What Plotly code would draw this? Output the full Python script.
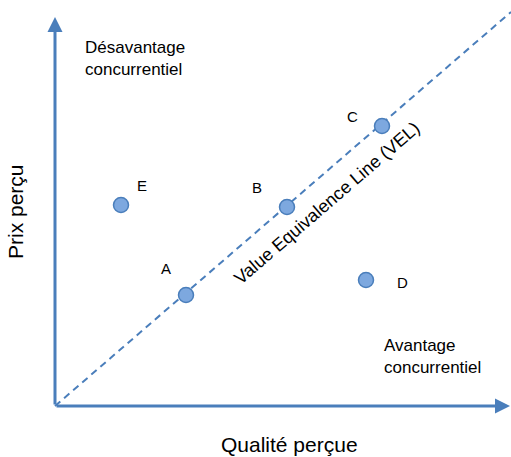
import plotly.graph_objects as go

# Data (data units: perceived quality on x, perceived price on y)
names = ["A", "B", "C", "D", "E"]
quality = [13.1, 23.2, 32.7, 31.1, 6.6]
price = [11.1, 19.9, 28.0, 12.6, 20.1]
label_dx = [-2.0, -3.0, -3.0, 3.6, 2.05]
label_dy = [2.65, 2.0, 1.0, -0.2, 1.95]
vel_x = [0, 45.6]
vel_y = [0, 39.4]

blue = "#4A7EBB"
font = "Liberation Sans, Arial, sans-serif"

fig = go.Figure()
fig.add_trace(go.Scatter(x=vel_x, y=vel_y, mode="lines",
                         line=dict(color=blue, width=2, dash="7px,5px"),
                         hoverinfo="skip", showlegend=False))
fig.add_trace(go.Scatter(x=quality, y=price, mode="markers",
                         marker=dict(size=15, color="#7DA8DF",
                                     line=dict(color=blue, width=1.5)),
                         showlegend=False))
for n, x, y, dx, dy in zip(names, quality, price, label_dx, label_dy):
    fig.add_annotation(x=x + dx, y=y + dy, text=n, showarrow=False,
                       font=dict(size=15, color="#000", family=font))

# axes arrows
fig.add_annotation(x=45.5, y=0, ax=0, ay=0, xref="x", yref="y", axref="x", ayref="y",
                   showarrow=True, arrowhead=2, arrowsize=1, arrowwidth=3,
                   arrowcolor=blue, text="")
fig.add_annotation(x=0, y=38.9, ax=0, ay=0, xref="x", yref="y", axref="x", ayref="y",
                   showarrow=True, arrowhead=2, arrowsize=1, arrowwidth=3,
                   arrowcolor=blue, text="")

fig.add_annotation(x=2.8, y=34.8, text="Désavantage<br>concurrentiel", showarrow=False,
                   xanchor="left", align="left",
                   font=dict(size=17, color="#000", family=font))
fig.add_annotation(x=32.7, y=5.0, text="Avantage<br>concurrentiel", showarrow=False,
                   xanchor="left", align="left",
                   font=dict(size=17, color="#000", family=font))
fig.add_annotation(x=27.2, y=20.3, text="Value Equivalence Line (VEL)", showarrow=False,
                   textangle=-40.7, font=dict(size=18, color="#000", family=font))
fig.add_annotation(x=23.4, y=-3.8, text="Qualité perçue", showarrow=False,
                   font=dict(size=21, color="#000", family=font))
fig.add_annotation(x=-4.0, y=19.4, text="Prix perçu", showarrow=False, textangle=-90,
                   font=dict(size=21, color="#000", family=font))

fig.update_xaxes(range=[-5.5, 45.6], visible=False)
fig.update_yaxes(range=[-5.1, 40.6], visible=False)
fig.update_layout(width=511, height=457, margin=dict(l=0, r=0, t=0, b=0),
                  plot_bgcolor="white", paper_bgcolor="white", hovermode=False)
fig.write_html("out.html", config={"displayModeBar": False},
               post_script="document.body.style.margin='0';document.body.style.overflow='hidden';")
